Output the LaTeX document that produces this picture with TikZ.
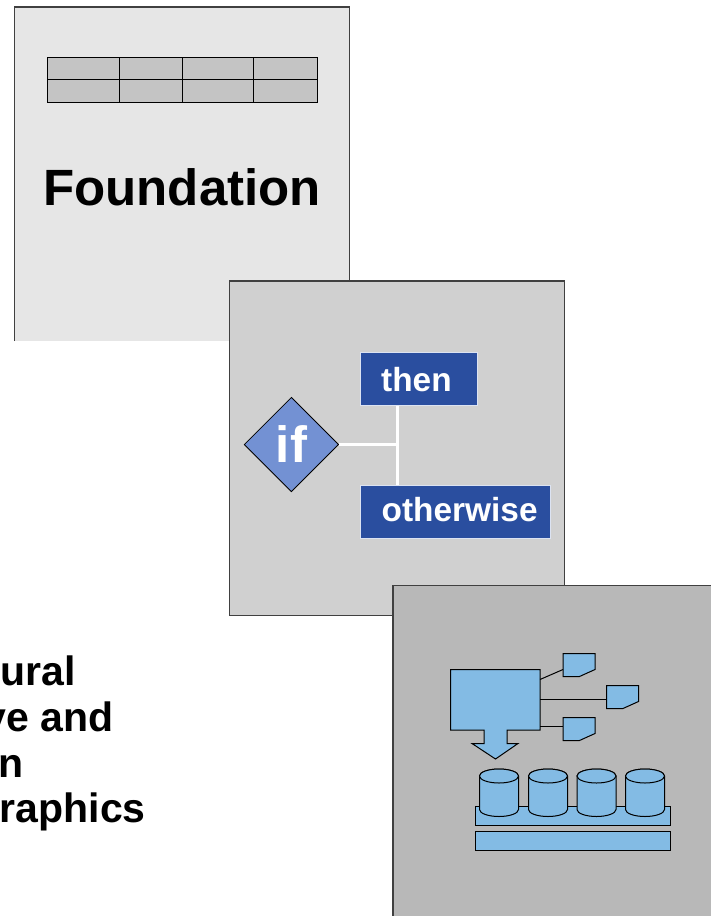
\documentclass[tikz,border=0pt]{standalone}
\usepackage{fontspec}
\setmainfont{Liberation Sans}
\usetikzlibrary{shapes.geometric}
\definecolor{pageA}{HTML}{E6E6E6}
\definecolor{pageB}{HTML}{D0D0D0}
\definecolor{pageC}{HTML}{B8B8B8}
\definecolor{cellgray}{HTML}{C4C4C4}
\definecolor{navy}{HTML}{2A4E9F}
\definecolor{boxrim}{HTML}{DCE3F2}
\definecolor{diam}{HTML}{7391D3}
\definecolor{sky}{HTML}{83BBE4}
\tikzset{
  x=1pt,y=-1pt,
  pageedge/.style={draw=black!75,line width=1.2pt},
  ink/.style={draw=black,line width=1pt},
  skyshape/.style={ink,fill=sky},
  bluebox/.style={draw=boxrim,line width=1pt,fill=navy,anchor=west,inner sep=0pt},
  bluetext/.style={font=\bfseries\fontsize{33.4}{33.4}\selectfont,text=white,inner sep=0pt,anchor=base west},
  whiteline/.style={draw=white,line width=3.8pt},
  caption/.style={font=\bfseries\fontsize{41}{46}\selectfont,anchor=base east,inner sep=0pt},
}
\newcommand{\cyl}[2]{%
  \draw[skyshape] (#1-19.5,#2) -- (#1-19.5,#2+33.5) arc[start angle=180,end angle=0,x radius=19.5,y radius=7] -- (#1+19.5,#2) arc[start angle=0,end angle=-180,x radius=19.5,y radius=7] -- cycle;
  \draw[skyshape] (#1,#2) ellipse[x radius=19.5,y radius=7];
}
\newcommand{\tagshape}[2]{%
  \draw[skyshape] (#1,#2) -- (#1+32,#2) -- (#1+32,#2+16) -- (#1+16.5,#2+23) -- (#1,#2+23) -- cycle;
}
\begin{document}
\begin{tikzpicture}
\useasboundingbox (0,0) rectangle (711,916);
\fill[white] (0,0) rectangle (711,916);
% first page
\fill[pageA] (14.6,7) rectangle (349.6,341);
\draw[pageedge] (14.6,341) -- (14.6,7) -- (349.6,7) -- (349.6,282);
\draw[ink,fill=cellgray] (47.4,57) rectangle (317.8,102.5);
\draw[ink] (47.4,79.5) -- (317.8,79.5);
\draw[ink] (119,57) -- (119,102.5);
\draw[ink] (182,57) -- (182,102.5);
\draw[ink] (253.5,57) -- (253.5,102.5);
\node[font=\bfseries\fontsize{51}{51}\selectfont,inner sep=0pt,anchor=base] (found) at (182,205.5) {Foundation};
% second page
\draw[pageedge,fill=pageB] (229.8,281) rectangle (564.8,615.5);
\coordinate (junction) at (397.5,444.5);
\node[bluebox,minimum width=117pt,minimum height=53pt] (then) at (359.8,379.3) {};
\node[bluebox,minimum width=190pt,minimum height=53pt] (other) at (359.8,511.5) {};
\node[diamond,aspect=1,draw=black,line width=0.8pt,fill=diam,inner sep=0pt,minimum width=94.5pt,minimum height=94.5pt,font=\bfseries\fontsize{51}{51}\selectfont,text=white] (ifnode) at (291.4,444.5) {if};
\draw[whiteline] (ifnode.east) -- (junction);
\draw[whiteline] (then.south -| junction) -- (other.north -| junction);
\node[bluetext] (thenlabel) at (381,391) {then};
\node[bluetext] (otherlabel) at (381.5,521) {otherwise};
% third page
\fill[pageC] (393,585.5) rectangle (711,916);
\draw[pageedge] (393,916) -- (393,585.5) -- (711,585.5);
% process diagram
\draw[skyshape] (450.5,669.5) -- (540,669.5) -- (540,730) -- (507,730) -- (507,743.5) -- (518,743.5) -- (495.5,759) -- (472,743.5) -- (484,743.5) -- (484,730) -- (450.5,730) -- cycle;
\coordinate (procA) at (540,679.5);
\coordinate (procB) at (540,699);
\coordinate (procC) at (540,726);
\tagshape{563}{653.5}
\tagshape{606.5}{685.5}
\tagshape{563}{717.5}
\draw[ink] (procA) -- (563,669.5);
\draw[ink] (procB) -- (606.5,699);
\draw[ink] (procC) -- (563,726);
\draw[skyshape] (475,806.5) rectangle (670.5,825.5);
\draw[skyshape] (475,831.5) rectangle (670.5,850.5);
\cyl{499}{776}
\cyl{548}{776}
\cyl{596.5}{776}
\cyl{645}{776}
% caption, cut by the left edge as in the picture
\node[caption] (c1) at (76,685) {ural};
\node[caption] (c2) at (114,731) {ve and};
\node[caption] (c3) at (23.5,777) {n};
\node[caption] (c4) at (146,822.5) {raphics};
\end{tikzpicture}
\end{document}
